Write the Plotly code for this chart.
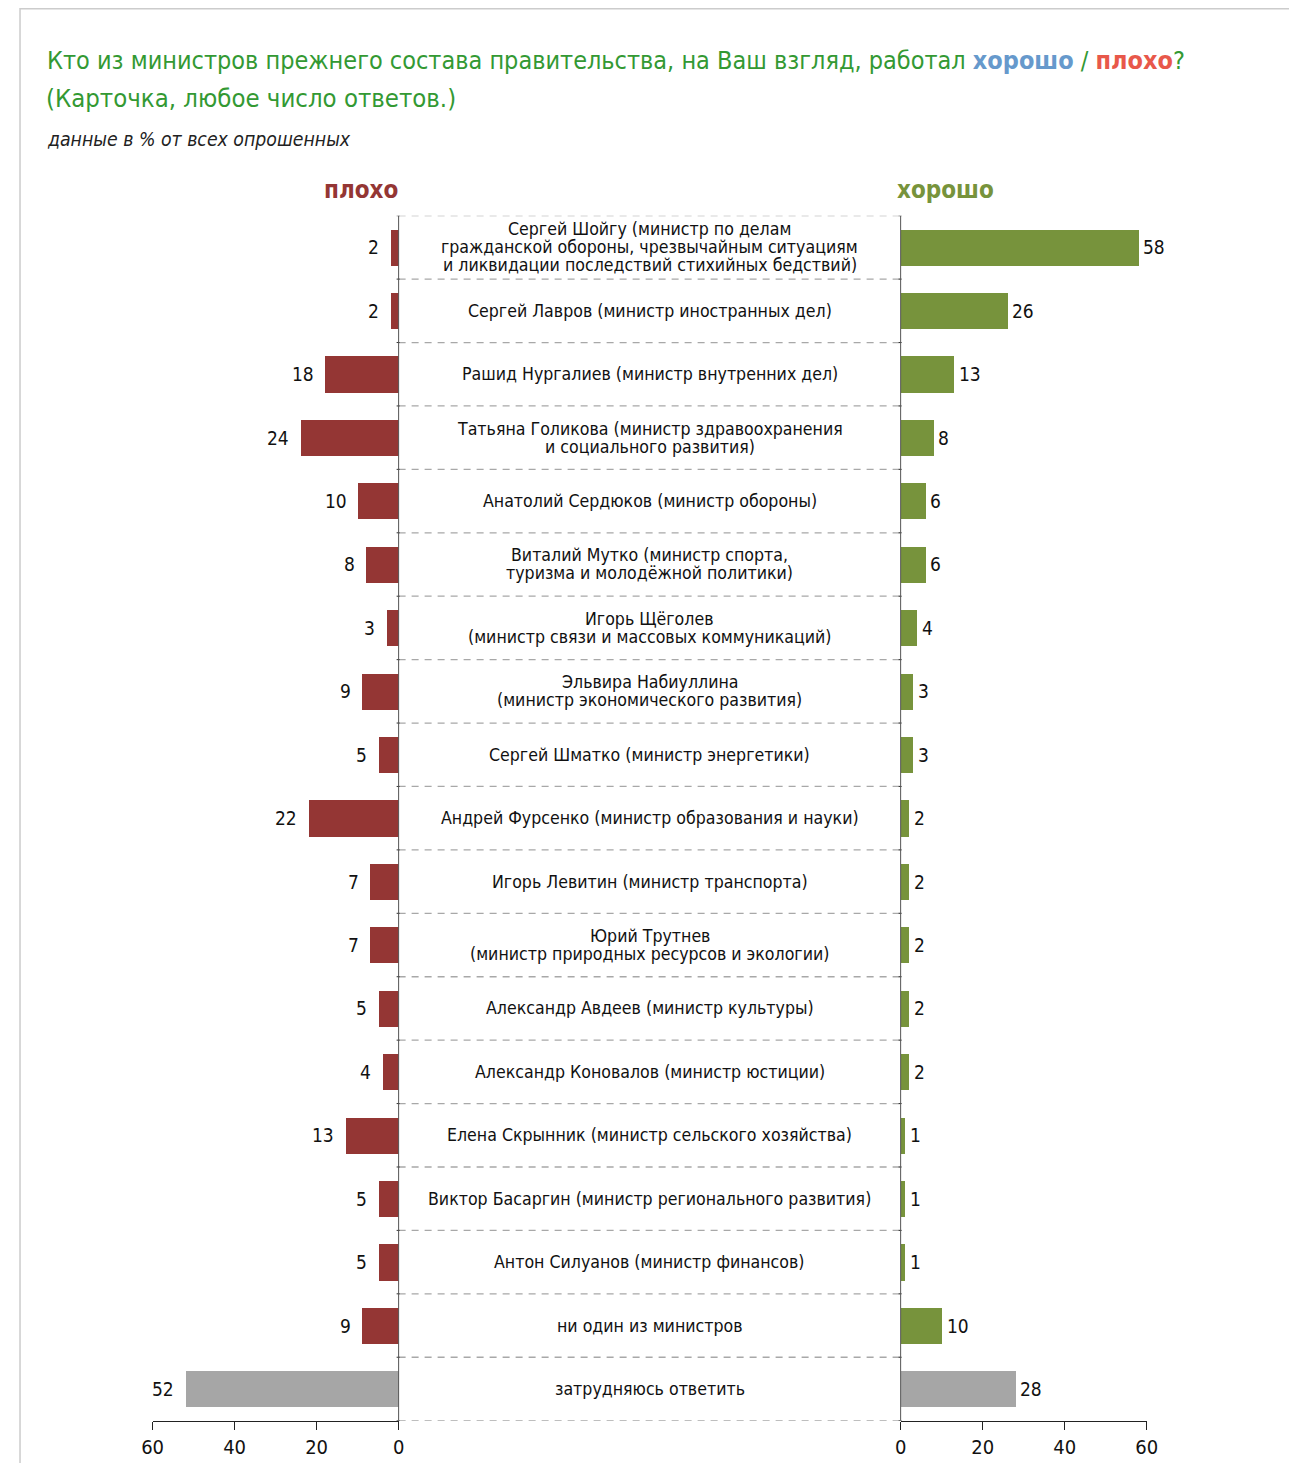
import plotly.graph_objects as go

W, H = 1297, 1463

# Data
ministers = [
    'Сергей Шойгу (министр по делам<br>гражданской обороны, чрезвычайным ситуациям<br>и ликвидации последствий стихийных бедствий)',
    'Сергей Лавров (министр иностранных дел)',
    'Рашид Нургалиев (министр внутренних дел)',
    'Татьяна Голикова (министр здравоохранения<br>и социального развития)',
    'Анатолий Сердюков (министр обороны)',
    'Виталий Мутко (министр спорта,<br>туризма и молодёжной политики)',
    'Игорь Щёголев<br>(министр связи и массовых коммуникаций)',
    'Эльвира Набиуллина<br>(министр экономического развития)',
    'Сергей Шматко (министр энергетики)',
    'Андрей Фурсенко (министр образования и науки)',
    'Игорь Левитин (министр транспорта)',
    'Юрий Трутнев<br>(министр природных ресурсов и экологии)',
    'Александр Авдеев (министр культуры)',
    'Александр Коновалов (министр юстиции)',
    'Елена Скрынник (министр сельского хозяйства)',
    'Виктор Басаргин (министр регионального развития)',
    'Антон Силуанов (министр финансов)',
    'ни один из министров',
    'затрудняюсь ответить',
]
bad = [2, 2, 18, 24, 10, 8, 3, 9, 5, 22, 7, 7, 5, 4, 13, 5, 5, 9, 52]
good = [58, 26, 13, 8, 6, 6, 4, 3, 3, 2, 2, 2, 2, 2, 1, 1, 1, 10, 28]
ticks = [0, 20, 40, 60]

RED = '#943634'
GREEN = '#77933C'
GREY = '#A6A6A6'
FONT = 'DejaVu Sans Condensed, DejaVu Sans, sans-serif'

n = len(ministers)
rows = list(range(n))
bad_colors = [RED] * (n - 1) + [GREY]
good_colors = [GREEN] * (n - 1) + [GREY]


# the captured page comes out slightly squeezed horizontally and shifted,
# so positions wanted on the final picture are mapped back to figure pixels
def px_x(p):
    return ((p - 18.4) / 0.983) / W


def px_y(p):
    return 1 - ((p - 8.0) / 0.9967) / H


fig = go.Figure()
fig.add_trace(go.Bar(
    y=rows, x=bad, orientation='h', xaxis='x', yaxis='y',
    marker=dict(color=bad_colors, line=dict(width=0)), width=0.57,
    showlegend=False, hoverinfo='x',
))
fig.add_trace(go.Bar(
    y=rows, x=good, orientation='h', xaxis='x2', yaxis='y',
    marker=dict(color=good_colors, line=dict(width=0)), width=0.57,
    showlegend=False, hoverinfo='x',
))

y_top, y_bot = 215, 1416
left_l, left_r = 152, 398
right_l, right_r = 900, 1146

axis_common = dict(
    tickvals=ticks, ticktext=[str(t) for t in ticks],
    showgrid=False, zeroline=False, showline=True, linecolor='#222222', linewidth=1,
    ticks='outside', ticklen=8, tickcolor='#222222',
    tickfont=dict(size=20, color='#111111', family=FONT), anchor='y',
)

fig.update_layout(
    width=W, height=H,
    margin=dict(l=0, r=0, t=0, b=0),
    paper_bgcolor='white', plot_bgcolor='rgba(0,0,0,0)',
    font=dict(family=FONT),
    bargap=0,
    xaxis=dict(domain=[px_x(left_l), px_x(left_r)], range=[60, 0], **axis_common),
    xaxis2=dict(domain=[px_x(right_l), px_x(right_r)], range=[0, 60], **axis_common),
    yaxis=dict(domain=[px_y(y_bot), px_y(y_top)], range=[n - 0.5, -0.5],
               showticklabels=False, showgrid=False, zeroline=False, showline=False),
)

shapes = []
# outer frame
shapes.append(dict(type='rect', xref='paper', yref='paper', x0=0.0008, x1=px_x(1291),
                   y0=-0.01, y1=0.9995, line=dict(color='#CCCCCC', width=1.5)))
# dashed separators with small ticks on the zero lines
for i in range(n + 1):
    shapes.append(dict(type='line', xref='paper', yref='y', x0=px_x(left_r), x1=px_x(right_l),
                       y0=i - 0.5, y1=i - 0.5, line=dict(color='#A8A8A8', width=1.3, dash='7px,6px')))
    for xp in (left_r, right_l):
        shapes.append(dict(type='line', xref='paper', yref='y', x0=px_x(xp - 2), x1=px_x(xp + 1),
                           y0=i - 0.5, y1=i - 0.5, line=dict(color='#333333', width=1)))
# vertical lines at the zero of both panels
for xp in (left_r, right_l):
    shapes.append(dict(type='line', xref='paper', yref='y', x0=px_x(xp), x1=px_x(xp),
                       y0=-0.5, y1=n - 0.5, line=dict(color='#555555', width=1)))
fig.update_layout(shapes=shapes)

annotations = []
for i, name in enumerate(ministers):
    lines = name.split('<br>')
    k = len(lines)
    for j, line in enumerate(lines):
        annotations.append(dict(
            x=px_x((left_r + right_l) / 2), y=i, xref='paper', yref='y', text=line,
            showarrow=False, xanchor='center', yanchor='middle', align='center',
            yshift=-(j - (k - 1) / 2) * 18,
            font=dict(size=17.6, color='#111111', family=FONT),
        ))
    # value labels
    annotations.append(dict(
        x=bad[i], y=i, xref='x', yref='y', text=str(bad[i]), showarrow=False,
        xanchor='right', yanchor='middle', xshift=-9,
        font=dict(size=19, color='#111111', family=FONT),
    ))
    annotations.append(dict(
        x=good[i], y=i, xref='x2', yref='y', text=str(good[i]), showarrow=False,
        xanchor='left', yanchor='middle', xshift=3,
        font=dict(size=19, color='#111111', family=FONT),
    ))

annotations += [
    dict(x=px_x(44), y=px_y(60), xref='paper', yref='paper', xanchor='left', yanchor='middle',
         showarrow=False, align='left',
         text=('Кто из министров прежнего состава правительства, на Ваш взгляд, работал '
               '<b><span style="color:#6699CC">хорошо</span></b> / '
               '<b><span style="color:#E8584A">плохо</span></b>?'),
         font=dict(size=25, color='#339933', family=FONT)),
    dict(x=px_x(43), y=px_y(98), xref='paper', yref='paper', xanchor='left', yanchor='middle',
         showarrow=False, align='left', text='(Карточка, любое число ответов.)',
         font=dict(size=25.5, color='#339933', family=FONT)),
    dict(x=px_x(44), y=px_y(139), xref='paper', yref='paper', xanchor='left', yanchor='middle',
         showarrow=False, align='left', text='<i>данные в % от всех опрошенных</i>',
         font=dict(size=19.3, color='#222222', family=FONT)),
    dict(x=px_x(399), y=px_y(189), xref='paper', yref='paper', xanchor='right', yanchor='middle',
         showarrow=False, text='<b>плохо</b>', font=dict(size=24, color=RED, family=FONT)),
    dict(x=px_x(894), y=px_y(189), xref='paper', yref='paper', xanchor='left', yanchor='middle',
         showarrow=False, text='<b>хорошо</b>', font=dict(size=24, color=GREEN, family=FONT)),
]
fig.update_layout(annotations=annotations)

fig.write_html('out.html')
